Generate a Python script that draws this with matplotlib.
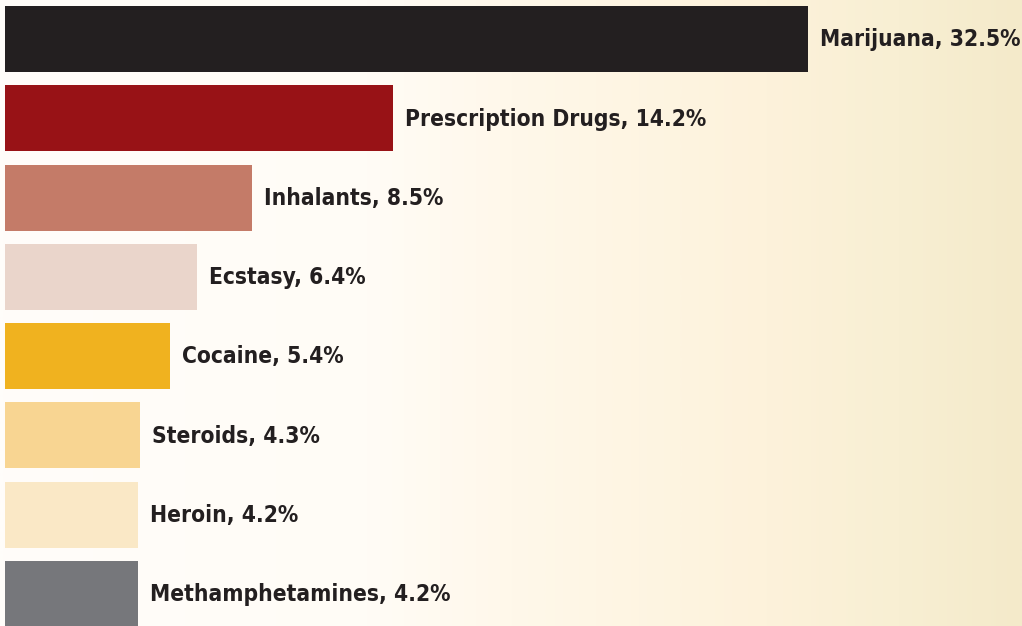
import matplotlib
matplotlib.use("Agg")
import matplotlib.pyplot as plt
import numpy as np
from matplotlib.colors import LinearSegmentedColormap

categories = ["Marijuana", "Prescription Drugs", "Inhalants", "Ecstasy",
              "Cocaine", "Steroids", "Heroin", "Methamphetamines"]
values = [32.5, 14.2, 8.5, 6.4, 5.4, 4.3, 4.2, 4.2]
colors = ["#231F20", "#981216", "#C47B68", "#EAD5CB",
          "#F0B21F", "#F8D592", "#FAE8C6", "#76777B"]

W, H = 1022, 626
fig = plt.figure(figsize=(W / 100, H / 100), dpi=100)
ax = fig.add_axes([0, 0, 1, 1])

# background gradient
bg = LinearSegmentedColormap.from_list(
    "bg", [(0.0, "#FFFDFA"), (0.36, "#FFFCF6"), (0.5, "#FFF8EA"),
           (0.75, "#FDF2DB"), (0.88, "#F8EFD3"), (1.0, "#F4EACA")])
grad = np.linspace(0, 1, 512).reshape(1, -1)
ax.imshow(grad, cmap=bg, aspect="auto", extent=[0, 1, 0, 1],
          transform=ax.transAxes, zorder=0, interpolation="bilinear")

# the original graphic uses a compressed (power) length scale
p = 0.88
ax.set_xscale("function",
              functions=(lambda x: np.sign(x) * np.abs(x) ** p,
                         lambda y: np.sign(y) * np.abs(y) ** (1 / p)))
# 0 at 5px, 32.5 at 808px
t_max = 32.5 ** p
px_per_t = 803 / t_max
t0 = -5 / px_per_t
t1 = (W - 5) / px_per_t
inv = lambda t: np.sign(t) * np.abs(t) ** (1 / p)
ax.set_xlim(inv(t0), inv(t1))

# vertical layout
spacing = (594 - 39) / 7
top_px = 39
ypos = np.arange(len(categories))
ax.set_ylim((H - top_px) / spacing, -top_px / spacing)

ax.barh(ypos, values, height=66 / spacing, color=colors, zorder=2)

for y, v, c in zip(ypos, values, categories):
    tx = inv(v ** p + 12 / px_per_t)
    ax.text(tx, y + 0.01, f"{c}, {v}%", ha="left", va="center",
            fontsize=16.3, fontweight="bold", fontstretch="condensed",
            color="#231F20", family="DejaVu Sans", zorder=3)

ax.axis("off")
fig.savefig("out.png", dpi=100)
